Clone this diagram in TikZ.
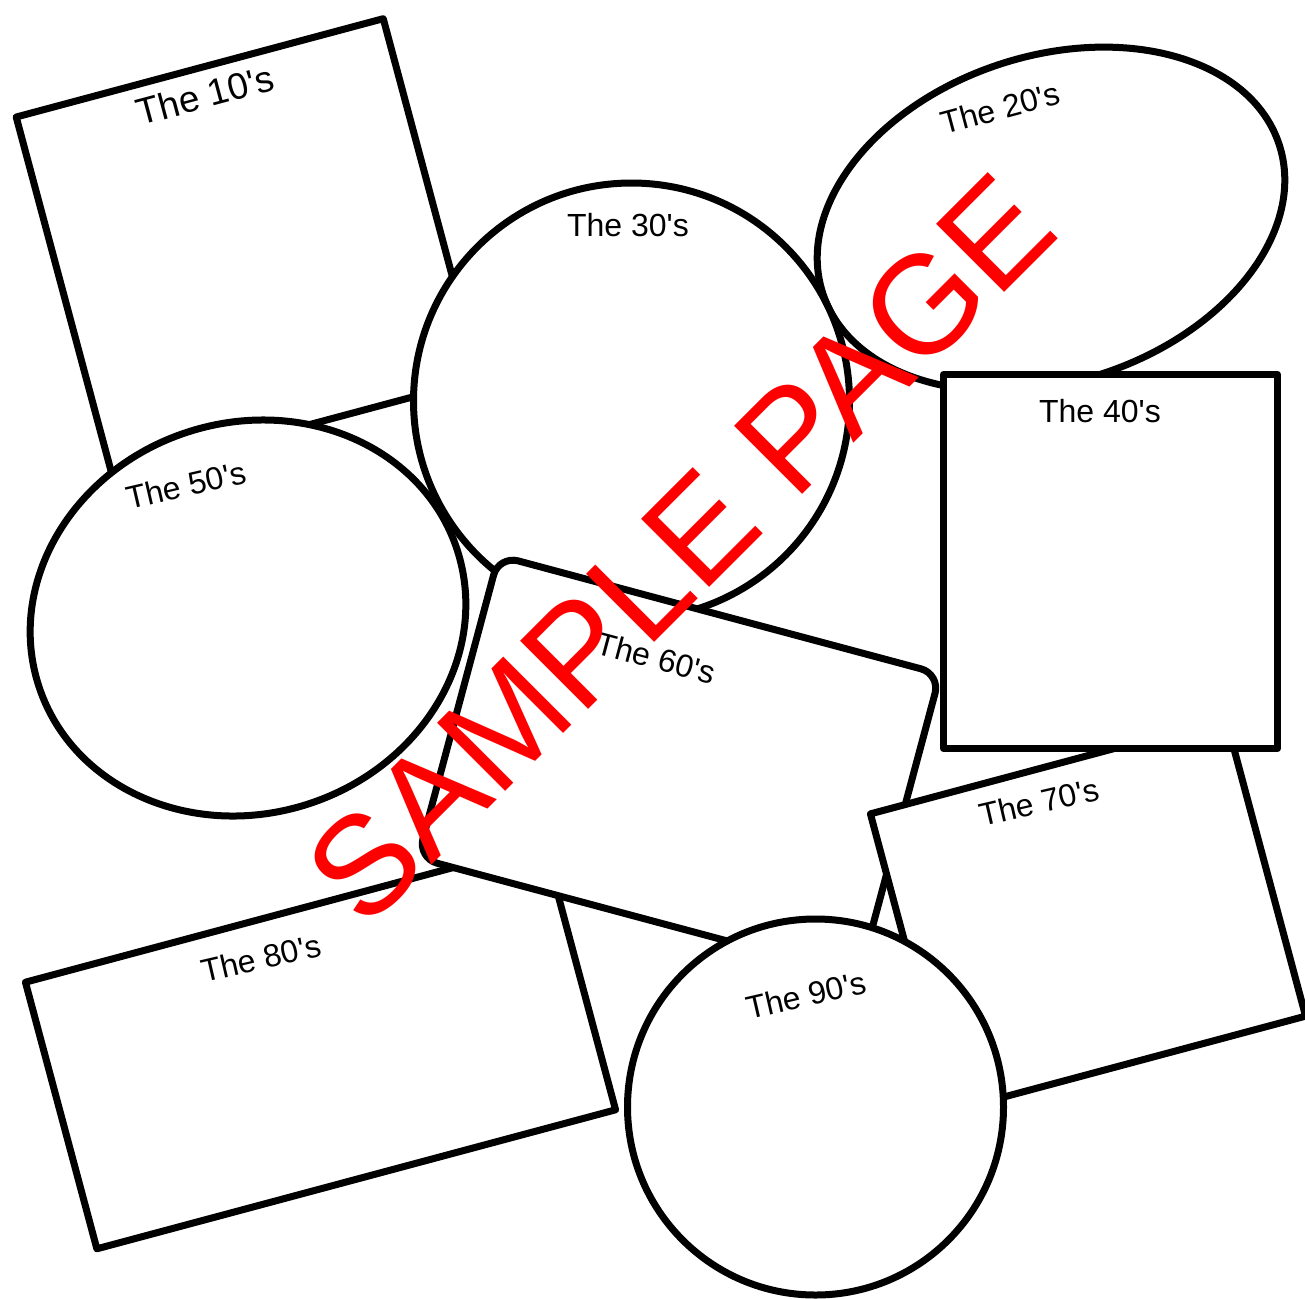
\documentclass[tikz,border=0pt]{standalone}
\usepackage{fontspec}
\newfontfamily\arialf{Liberation Sans}
\usetikzlibrary{shapes.geometric}
\begin{document}
\begin{tikzpicture}[x=1pt,y=-1pt,
  shp/.style={draw=black, fill=white, line width=7pt, line join=round, inner sep=0pt, outer sep=0pt},
  lbl/.style={font=\arialf\fontsize{32}{32}\selectfont, inner sep=0pt, text=black},
  biglbl/.style={font=\arialf\fontsize{37}{37}\selectfont, inner sep=0pt, text=black},
  stamp/.style={font=\arialf\fontsize{140}{140}\selectfont, text=red, inner sep=0pt}]
\useasboundingbox (0,0) rectangle (1305,1298);
\fill[white] (0,0) rectangle (1305,1298);
\clip (0,0) rectangle (1305,1298);
% shapes, back to front
\node[shp, rectangle, rotate=15, minimum width=380pt, minimum height=373pt] (s10) at (248,248) {};
\node[shp, ellipse, rotate=18, minimum width=480pt, minimum height=326pt] (s20) at (1051,219) {};
\node[shp, circle, minimum size=436pt] (s30) at (631.5,401) {};
\node[shp, ellipse, rotate=18, minimum width=440pt, minimum height=391pt] (s50) at (248,618) {};
\node[shp, rectangle, rotate=15, minimum width=537pt, minimum height=276pt] (s80) at (320.5,1046) {};
\node[shp, rectangle, rounded corners=20pt, rotate=-15, minimum width=457pt, minimum height=313pt] (s60) at (679,766) {};
\node[shp, rectangle, rotate=15, minimum width=368pt, minimum height=308pt] (s70) at (1088,915) {};
\node[shp, rectangle, minimum width=334pt, minimum height=374pt] (s40) at (1110.5,561.5) {};
\node[shp, circle, minimum size=376pt] (s90) at (815.5,1107) {};
% labels
\node[biglbl, rotate=15] (l10) at (205,95) {The 10's};
\node[lbl, rotate=15] (l20) at (1000,108) {The 20's};
\node[lbl] (l30) at (628,225) {The 30's};
\node[lbl] (l40) at (1100,411) {The 40's};
\node[lbl, rotate=13] (l50) at (186,485) {The 50's};
\node[lbl, rotate=-15] (l60) at (656,658) {The 60's};
\node[lbl, rotate=13] (l70) at (1039,802) {The 70's};
\node[lbl, rotate=13] (l80) at (261,958) {The 80's};
\node[lbl, rotate=13] (l90) at (806,995) {The 90's};
% stamp
\node[stamp, rotate=45] (sp) at (680,549) {SAMPLE PAGE};
\end{tikzpicture}
\end{document}
